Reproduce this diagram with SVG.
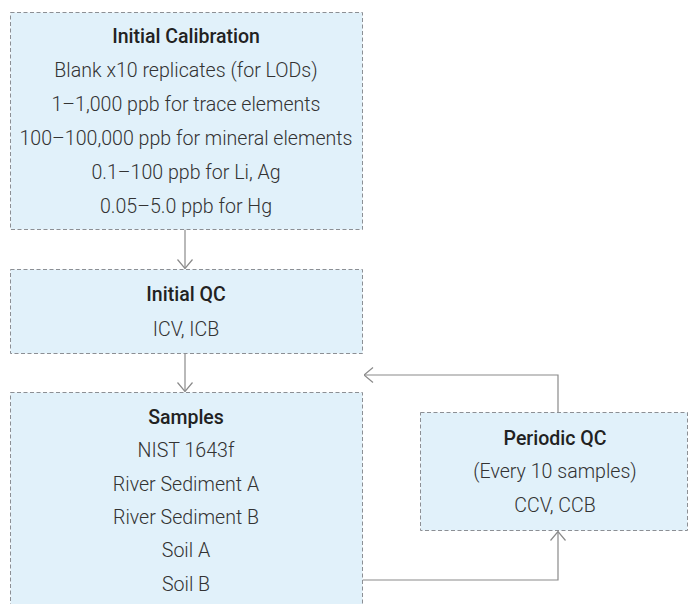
<svg xmlns="http://www.w3.org/2000/svg" width="689" height="604" viewBox="0 0 689 604">
<style>
.box{fill:#e1f1fa;stroke:#8c8f94;stroke-width:1;stroke-dasharray:4 2.5}
.t{font-family:"Roboto Light",Roboto,"Liberation Sans",sans-serif;font-size:19.6px;font-weight:300;fill:#333;text-anchor:middle;dominant-baseline:central}
.b{font-family:Roboto,"Liberation Sans",sans-serif;font-weight:500;fill:#222;font-size:19.5px}
.c{fill:none;stroke:#8a8a8a;stroke-width:1.2}
</style>
<defs>
<marker id="ah" viewBox="0 0 10 16" refX="9.5" refY="8" markerWidth="10" markerHeight="16" markerUnits="userSpaceOnUse" orient="auto">
<path d="M0.5,0.5 L9.5,8 L0.5,15.5" fill="none" stroke="#8a8a8a" stroke-width="1.2"/>
</marker>
</defs>
<g id="connectors">
<path class="c" d="M185,229.5 V268.5" marker-end="url(#ah)"/>
<path class="c" d="M185,353.5 V391.5" marker-end="url(#ah)"/>
<path class="c" d="M558,412 V375 H364" marker-end="url(#ah)"/>
<path class="c" d="M362.5,580 H558 V531.5" marker-end="url(#ah)"/>
</g>
<g id="initial-calibration">
<rect class="box" x="10.5" y="12.5" width="352" height="217"/>
<text class="t b" x="186" y="36">Initial Calibration</text>
<text class="t" x="186" y="70">Blank x10 replicates (for LODs)</text>
<text class="t" x="186" y="104">1–1,000 ppb for trace elements</text>
<text class="t" x="186" y="138">100–100,000 ppb for mineral elements</text>
<text class="t" x="186" y="172">0.1–100 ppb for Li, Ag</text>
<text class="t" x="186" y="206">0.05–5.0 ppb for Hg</text>
</g>
<g id="initial-qc">
<rect class="box" x="10.5" y="269.5" width="352" height="84"/>
<text class="t b" x="186" y="294">Initial QC</text>
<text class="t" x="186" y="329">ICV, ICB</text>
</g>
<g id="samples">
<rect class="box" x="10.5" y="392.5" width="352" height="230"/>
<text class="t b" x="186" y="417">Samples</text>
<text class="t" x="186" y="450">NIST 1643f</text>
<text class="t" x="186" y="484">River Sediment A</text>
<text class="t" x="186" y="517">River Sediment B</text>
<text class="t" x="186" y="550">Soil A</text>
<text class="t" x="186" y="584">Soil B</text>
</g>
<g id="periodic-qc">
<rect class="box" x="420.5" y="412.5" width="267" height="118"/>
<text class="t b" x="555" y="438">Periodic QC</text>
<text class="t" x="555" y="471">(Every 10 samples)</text>
<text class="t" x="555" y="505">CCV, CCB</text>
</g>
</svg>
